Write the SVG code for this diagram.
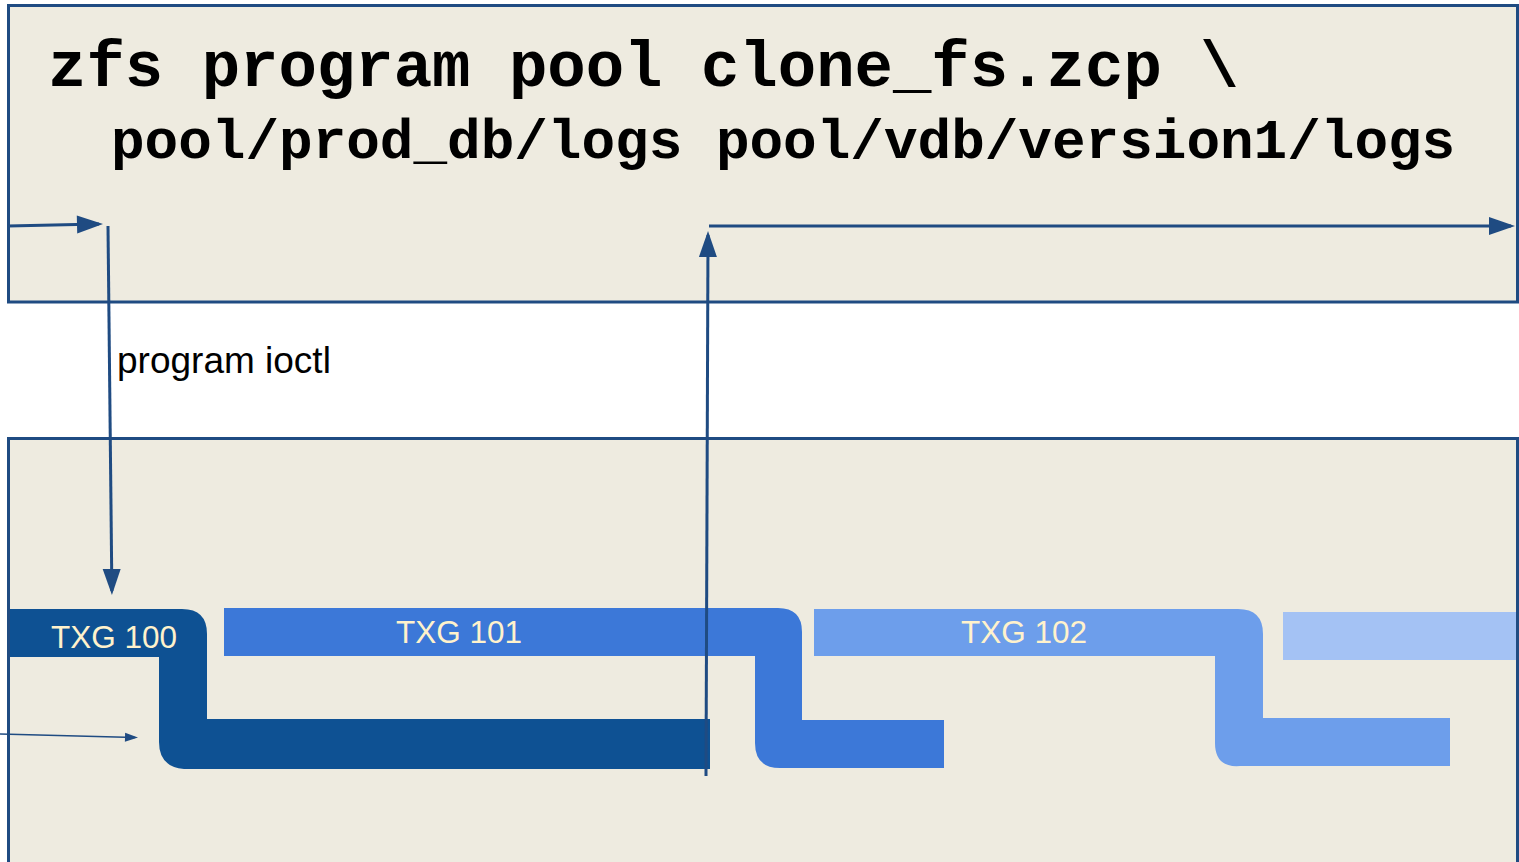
<svg xmlns="http://www.w3.org/2000/svg" width="1519" height="862" viewBox="0 0 1519 862">
  <style>
    .panel { fill: #eeebe0; stroke: #1f4b82; stroke-width: 3; }
    .code { font-family: "Liberation Mono", "Courier New", monospace; font-weight: bold; fill: #000; }
    .txg { font-family: "Liberation Sans", Arial, sans-serif; font-size: 31.5px; fill: #fff2cc; text-anchor: middle; }
    .note { font-family: "Liberation Sans", Arial, sans-serif; font-size: 37px; fill: #000; }
    .link { fill: none; stroke: #1f4b82; stroke-width: 3; marker-end: url(#head); }
    .link-thin { fill: none; stroke: #1f4b82; stroke-width: 1.5; marker-end: url(#head-small); }
  </style>
  <defs>
    <marker id="head" markerUnits="userSpaceOnUse" markerWidth="26" markerHeight="18" refX="22" refY="9" orient="auto" overflow="visible">
      <path d="M0,0 L26,9 L0,18 Z" fill="#1f4b82"/>
    </marker>
    <marker id="head-small" markerUnits="userSpaceOnUse" markerWidth="13" markerHeight="9" refX="10" refY="4.5" orient="auto" overflow="visible">
      <path d="M0,0 L13,4.5 L0,9 Z" fill="#1f4b82"/>
    </marker>
  </defs>

  <rect width="1519" height="862" fill="#ffffff"/>

  <!-- user-space panel: the command line -->
  <g id="userland">
    <rect class="panel" x="8.5" y="5.5" width="1509" height="296.5"/>
    <text class="code" x="48" y="86" font-size="64">zfs program pool clone_fs.zcp \</text>
    <text class="code" x="111" y="158" font-size="56">pool/prod_db/logs pool/vdb/version1/logs</text>
  </g>

  <!-- kernel panel: transaction groups -->
  <g id="kernel">
    <rect class="panel" x="8.5" y="438.5" width="1509" height="430"/>
  </g>

  <g id="txg100">
    <path d="M10,609 H182 Q207,609 207,634 V719 H710 V769 H184 Q159,767 159,742 V657 H10 Z" fill="#0e5193"/>
    <text class="txg" x="114" y="648">TXG 100</text>
  </g>

  <g id="txg101">
    <path d="M224,608 H778 Q802,608 802,632 V720 H944 V768 H780 Q755,768 755,743 V656 H224 Z" fill="#3c78d8"/>
    <text class="txg" x="459" y="643">TXG 101</text>
  </g>

  <g id="txg102">
    <path d="M814,609 H1238 Q1263,609 1263,634 V718 H1450 V766 H1240 Q1215,768 1215,743 V656 H814 Z" fill="#6d9eeb"/>
    <text class="txg" x="1024" y="643">TXG 102</text>
  </g>

  <g id="txg103">
    <rect x="1283" y="612" width="233" height="48" fill="#a4c2f4"/>
  </g>

  <!-- call flow between user space and kernel -->
  <g id="connectors">
    <path class="link" d="M8,226 L99,224"/>
    <path class="link" d="M108,226 L111.9,591"/>
    <path class="link" d="M706,776 L708,235"/>
    <path class="link" d="M709,226 L1511,226"/>
    <path class="link-thin" d="M0,734 L135,737.5"/>
    <text class="note" x="117" y="373">program ioctl</text>
  </g>
</svg>
